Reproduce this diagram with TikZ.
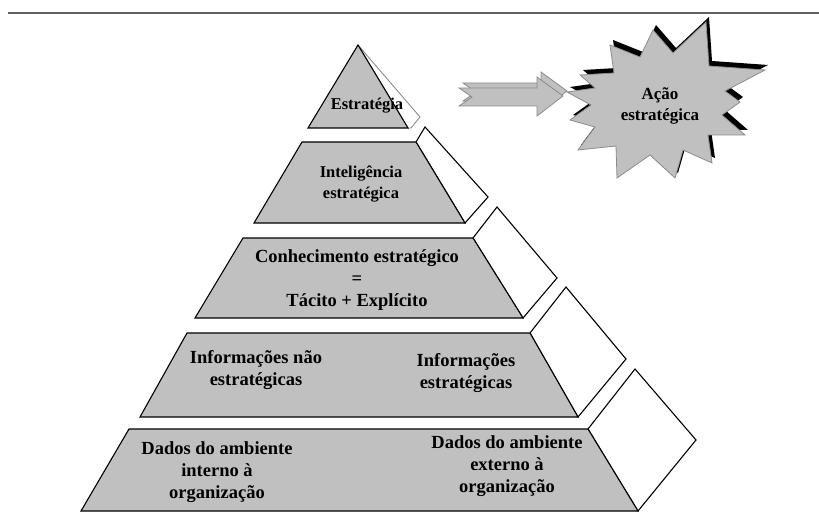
\documentclass[tikz,border=0pt]{standalone}
\usepackage{fontspec}
\setmainfont{Liberation Serif}
\definecolor{lvlgray}{HTML}{C0C0C0}
\definecolor{edgegray}{HTML}{8C8C8C}
\begin{document}
\begin{tikzpicture}[x=1pt,y=-1pt,
  level/.style={draw=black,fill=lvlgray,line width=1.1pt,line join=miter},
  side/.style={draw=black,fill=white,line width=1.1pt,line join=miter},
  lbl/.style={align=center,font=\fontsize{18.5}{22}\selectfont\bfseries,inner sep=0pt},
  lblsmall/.style={align=center,font=\fontsize{16.5}{21}\selectfont\bfseries,inner sep=0pt},
  arrowbody/.style={fill=lvlgray,draw=edgegray,line width=0.8pt},
  starbody/.style={fill=lvlgray,draw=edgegray,line width=0.8pt,line join=miter}]
\useasboundingbox (0,0) rectangle (819,524);
% top rule
\draw[line width=2pt,gray!75!black] (8,13) -- (819,13);

% level 1
\draw[side,draw=edgegray,line width=0.9pt] (358,45) -- (420,117) -- (411,128) -- (408,128) -- cycle;
\draw[level] (358,45) -- (408,128) -- (308,128) -- cycle;
% level 2
\draw[side] (416,142) -- (425,127) -- (488,197) -- (465,223) -- cycle;
\draw[level] (302,142) -- (416,142) -- (465,223) -- (254,223) -- cycle;
% level 3
\draw[side] (473,238) -- (497,207) -- (557,278) -- (523,318) -- cycle;
\draw[level] (243,238) -- (473,238) -- (523,318) -- (195,318) -- cycle;
% level 4
\draw[side] (530,333) -- (566,287) -- (626,359) -- (578,417) -- cycle;
\draw[level] (187,333) -- (530,333) -- (578,417) -- (140,417) -- cycle;
% level 5
\draw[side] (588,429) -- (635,369) -- (696,440) -- (638,511) -- cycle;
\draw[level] (129,429) -- (588,429) -- (638,511) -- (81,511) -- cycle;

% labels
\node[lblsmall] (estr) at (367,106) {Estratégia};
\node[lblsmall] (intel) at (361,184) {Inteligência\\estratégica};
\node[lbl] (conh) at (357,280) {Conhecimento estratégico\\=\\Tácito + Explícito};
\node[lbl] (infnao) at (256,370) {Informações não\\estratégicas};
\node[lbl] (infest) at (466,373) {Informações\\estratégicas};
\node[lbl] (dadint) at (217,472) {Dados do ambiente\\interno à\\organização};
\node[lbl] (dadext) at (507,466) {Dados do ambiente\\externo à\\organização};

% block arrow (back copy, then front)
\draw[arrowbody] (463,83) -- (541,83) -- (541,72) -- (567,91) -- (541,111) -- (541,101) -- (463,101) -- (476,92) -- cycle;
\draw[arrowbody] (459,88) -- (537,88) -- (537,77) -- (563,96) -- (537,116) -- (537,106) -- (459,106) -- (472,97) -- cycle;

% star burst with shadow
\def\starpath{(653,30) -- (673,53) -- (706,22) -- (709,66) -- (765,70) -- (725,91) -- (740,102) -- (722,115) -- (745,135) -- (708,135) -- (712,163) -- (683,150) -- (675,178) -- (650,155) -- (617,178) -- (616,146) -- (578,150) -- (595,127) -- (570,120) -- (591,105) -- (567,92) -- (595,88) -- (580,75) -- (614,73) -- (610,45) -- (640,57) -- cycle}
\begin{scope}[shift={(3,-5)}]
\fill[black] \starpath;
\end{scope}
\draw[starbody] \starpath;
\node[align=center,font=\fontsize{17}{21}\selectfont\bfseries,inner sep=0pt] (acao) at (660,106) {Ação\\estratégica};
\end{tikzpicture}
\end{document}
